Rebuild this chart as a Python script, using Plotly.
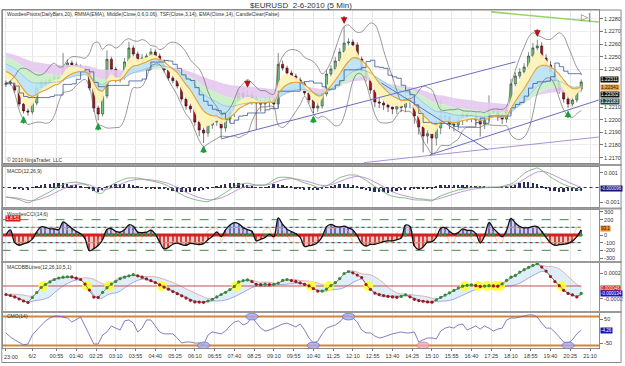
import numpy as np
import pandas as pd
import plotly.graph_objects as go
from plotly.subplots import make_subplots

# ---------------- data ----------------
title_text = "$EURUSD  2-6-2010 (5 Min)"
tick_vals = [0, 12, 23, 32, 41, 50, 59, 68, 77, 86, 95, 104, 113, 122, 131, 140, 149, 158,
             167, 176, 185, 194, 203, 212, 221, 230, 239, 248, 257, 266]
tick_text = ["23:00", "6/2", "00:55", "01:40", "02:25", "03:10", "03:55", "04:40", "05:25",
             "06:10", "06:55", "07:40", "08:25", "09:10", "09:55", "10:40", "11:25", "12:10",
             "12:55", "13:40", "14:25", "15:10", "15:55", "16:40", "17:25", "18:10", "18:55",
             "19:40", "20:25", "21:10"]

closes = [1.22292, 1.22300, 1.22236, 1.22125, 1.22070, 1.22062, 1.22133, 1.22252, 1.22300, 1.22285,
          1.22316, 1.22340, 1.22324, 1.22419, 1.22451, 1.22435, 1.22419, 1.22403, 1.22380, 1.22252,
          1.22093, 1.22046, 1.22189, 1.22480, 1.22400, 1.22316, 1.22340, 1.22459, 1.22570, 1.22522,
          1.22459, 1.22490, 1.22506, 1.22538, 1.22506, 1.22459, 1.22395, 1.22332, 1.22310, 1.22268,
          1.22165, 1.22109, 1.22085, 1.21982, 1.21919, 1.21895, 1.21958, 1.21982, 1.22022, 1.21935,
          1.22006, 1.22062, 1.22149, 1.22213, 1.22181, 1.22195, 1.22170, 1.22133, 1.22125, 1.22149,
          1.22160, 1.22125, 1.22440, 1.22410, 1.22371, 1.22347, 1.22316, 1.22284, 1.22213, 1.22157,
          1.22093, 1.22109, 1.22205, 1.22363, 1.22403, 1.22467, 1.22538, 1.22609, 1.22617, 1.22594,
          1.22482, 1.22395, 1.22332, 1.22236, 1.22141, 1.22133, 1.22117, 1.22101, 1.22085, 1.22110,
          1.22100, 1.22157, 1.22141, 1.22030, 1.21942, 1.21871, 1.21890, 1.21855, 1.21935, 1.22030,
          1.22022, 1.21966, 1.21958, 1.21998, 1.22038, 1.22022, 1.22030, 1.21998, 1.21966, 1.22014,
          1.22054, 1.22060, 1.22022, 1.22006, 1.22077, 1.22284, 1.22347, 1.22379, 1.22419, 1.22506,
          1.22570, 1.22586, 1.22490, 1.22435, 1.22379, 1.22316, 1.22236, 1.22165, 1.22125, 1.22157,
          1.22244, 1.22300]
opens = [1.22280, 1.22292, 1.22300, 1.22236, 1.22125, 1.22070, 1.22062, 1.22133, 1.22252, 1.22300,
         1.22285, 1.22316, 1.22340, 1.22324, 1.22419, 1.22451, 1.22435, 1.22419, 1.22403, 1.22380,
         1.22252, 1.22093, 1.22046, 1.22189, 1.22480, 1.22400, 1.22316, 1.22340, 1.22459, 1.22570,
         1.22522, 1.22459, 1.22490, 1.22506, 1.22538, 1.22506, 1.22459, 1.22395, 1.22332, 1.22310,
         1.22268, 1.22165, 1.22109, 1.22085, 1.21982, 1.21919, 1.21895, 1.21958, 1.21982, 1.22022,
         1.21935, 1.22006, 1.22062, 1.22149, 1.22213, 1.22181, 1.22195, 1.22170, 1.22133, 1.22125,
         1.22149, 1.22160, 1.22125, 1.22440, 1.22410, 1.22371, 1.22347, 1.22316, 1.22284, 1.22213,
         1.22157, 1.22093, 1.22109, 1.22205, 1.22363, 1.22403, 1.22467, 1.22538, 1.22609, 1.22617,
         1.22594, 1.22482, 1.22395, 1.22332, 1.22236, 1.22141, 1.22133, 1.22117, 1.22101, 1.22085,
         1.22110, 1.22100, 1.22157, 1.22141, 1.22030, 1.21942, 1.21871, 1.21890, 1.21855, 1.21935,
         1.22030, 1.22022, 1.21966, 1.21958, 1.21998, 1.22038, 1.22022, 1.22030, 1.21998, 1.21966,
         1.22014, 1.22054, 1.22060, 1.22022, 1.22006, 1.22077, 1.22284, 1.22347, 1.22379, 1.22419,
         1.22506, 1.22570, 1.22586, 1.22490, 1.22435, 1.22379, 1.22316, 1.22236, 1.22165, 1.22125,
         1.22157, 1.22244]
upper_wick_pips = [2, 2, 2, 1, 1, 2, 2, 3, 2, 2,  2, 2, 2, 11, 3, 2, 2, 2, 2, 2,
                   2, 2, 3, 7, 2, 2, 3, 3, 5, 2,  2, 3, 2, 3, 2, 2, 2, 2, 2, 2,
                   2, 2, 2, 2, 2, 2, 3, 2, 3, 2,  3, 3, 3, 3, 4, 4, 3, 2, 3, 3,
                   3, 2, 9, 3, 2, 2, 2, 2, 2, 2,  2, 3, 3, 3, 3, 3, 3, 13, 3, 2,
                   2, 2, 2, 2, 3, 3, 3, 3, 3, 3,  4, 6, 5, 3, 3, 4, 5, 4, 6, 13,
                   3, 3, 3, 3, 4, 3, 3, 3, 3, 4,  14, 3, 3, 3, 4, 4, 3, 3, 3, 3,
                   4, 5, 3, 3, 3, 2, 2, 2, 3, 3,  2, 2]
lower_wick_pips = [2, 2, 2, 2, 2, 3, 2, 2, 2, 2,  2, 2, 2, 2, 2, 2, 2, 2, 2, 2,
                   3, 5, 2, 2, 2, 2, 2, 2, 2, 2,  2, 2, 2, 2, 2, 2, 2, 2, 2, 2,
                   2, 3, 3, 3, 5, 8, 3, 3, 3, 8,  3, 3, 4, 5, 6, 6, 5, 21, 6, 5,
                   5, 4, 3, 2, 2, 2, 2, 2, 2, 3,  4, 3, 2, 2, 2, 2, 2, 2, 2, 2,
                   2, 2, 3, 3, 4, 4, 4, 4, 4, 4,  4, 4, 5, 6, 6, 13, 6, 13, 6, 5,
                   4, 4, 5, 4, 4, 4, 4, 4, 10, 4,  3, 3, 3, 4, 3, 3, 2, 2, 2, 2,
                   2, 2, 2, 3, 3, 3, 3, 3, 3, 2,  2, 2]

# MACD(12,26,9) line, in units of 0.0001
macd_e4 = [-6.6, -7.0, -7.6, -8.3, -9.6, -10.5, -9.3, -7.6, -6.1, -4.5,
           -3.0, -1.0, 0.6, 1.9, 3.1, 3.4, 3.7, 3.1, 2.2, 0.6,
           -2.1, -3.8, -3.7, 0.1, 1.7, 3.3, 4.6, 5.9, 6.6, 6.6,
           6.5, 5.9, 5.2, 4.6, 4.0, 3.2, 2.3, 1.0, -1.2, -3.2,
           -4.8, -6.3, -7.4, -8.3, -9.0, -9.6, -9.7, -8.4, -7.2, -5.3,
           -3.5, -1.5, 0.7, 2.0, 2.6, 3.0, 2.3, 1.7, 1.7, 1.7,
           3.2, 5.3, 6.8, 7.1, 7.0, 6.6, 5.5, 4.3, 3.2, 2.3,
           1.3, 0.0, 0.3, 1.2, 2.8, 4.9, 6.8, 7.7, 8.6, 8.6,
           8.4, 6.7, 5.0, 2.8, 0.7, -1.1, -3.0, -4.9, -6.0, -6.6,
           -7.0, -7.2, -7.9, -8.5, -8.6, -8.6, -8.9, -9.2, -7.2, -5.8,
           -4.6, -3.5, -2.6, -1.7, -1.1, -0.5, -0.1, 0.2, 0.3, 0.3,
           0.3, 0.3, 0.3, 0.7, 1.8, 2.4, 4.1, 7.0, 9.6, 11.4,
           12.5, 13.4, 11.9, 9.7, 7.2, 5.4, 3.6, 2.1, 1.0, -0.1,
           -1.2, -1.9]

# MACDBBLines dots, in units of 0.0001
macdbb_e4 = [-1.31, -1.46, -1.69, -2.0, -2.31, -2.54, -1.77, -1.0, -0.23, 0.23,
             0.62, 1.0, 1.23, 1.35, 1.42, 1.40, 1.20, 1.0, 0.29, -0.63,
             -1.71, -1.74, -0.98, -0.26, 0.29, 0.69, 1.12, 1.35, 1.57, 1.75,
             1.57, 1.35, 1.09, 0.82, 0.54, 0.17, -0.17, -0.49, -0.85, -1.18,
             -1.52, -1.86, -2.2, -2.45, -2.48, -2.51, -2.31, -2.06, -1.68, -1.31,
             -0.98, -0.55, -0.06, 0.62, 0.83, 0.94, 0.69, 0.25, 0.20, 0.28,
             0.22, 0.26, 0.45, 0.85, 1.0, 0.83, 0.71, 0.48, 0.26, 0.02,
             -0.4, -0.78, -0.78, -0.48, 0.06, 0.51, 1.14, 1.92, 2.23, 2.03,
             1.68, 1.31, 0.23, -0.52, -1.09, -1.31, -1.46, -1.6, -1.68, -1.74,
             -1.6, -1.35, -1.66, -2.05, -2.25, -2.35, -2.46, -2.49, -2.12, -1.75,
             -1.4, -1.05, -0.69, -0.31, -0.03, 0.11, 0.18, 0.05, -0.06, -0.02,
             0.05, 0.01, -0.03, 0.32, 0.88, 1.35, 1.63, 2.14, 2.51, 2.86,
             3.18, 3.45, 2.91, 2.29, 1.45, 0.68, 0.05, -0.66, -1.15, -1.38,
             -1.69, -1.15]

# CMO(14)
cmo_vals = [-8, -25, -37, -46, -58, -54, -17, 4, 21, 42,
            54, 62, 62, 58, 54, 37, 46, 58, 21, -17,
            -54, -54, -17, -4, 21, 12, 4, 42, 46, 33,
            -4, 12, 46, 46, 21, -4, -12, -12, -12, -29,
            -50, -46, -46, -50, -50, -58, -17, -4, -8, -12,
            0, 21, 37, 42, 25, 33, 58, 37, 12, 0,
            4, 12, 21, 29, 33, 25, 17, 29, 4, -29,
            -50, -42, -12, 12, 17, 25, 37, 58, 67, 54,
            37, 4, -8, -8, -21, -29, -25, -17, -12, -8,
            -4, -8, -8, -4, -46, -37, -29, -29, -33, 0,
            12, 17, 12, 25, 29, 4, 12, 21, 8, 21,
            12, 0, 8, 12, 46, 54, 54, 58, 62, 67,
            67, 58, 33, 12, 12, -4, -25, -46, -50, -37,
            -12, 4]
cmo_mark_bars = [45, 56, 70, 78, 95, 128]
cmo_mark_side = [-1, 1, -1, 1, -1, -1]
cmo_mark_kind = ["normal", "normal", "normal", "normal", "alert", "normal"]
cmo_levels = [60, -60]

up_pivots = [4, 21, 45, 70, 128]
down_pivots = [55, 77, 121]

# trend lines drawn on the chart: (bar, price) -> (bar, price)
trend_starts = [(98, 1.21848), (163, 1.21660), (171, 1.22292), (193, 1.21721), (221, 1.22856)]
trend_ends = [(232, 1.22459), (270, 1.21863), (219.5, 1.21760), (270, 1.22157), (270, 1.22776)]

# ribbon moving averages (periods) and their levels at the left edge of the chart
ribbon_periods = [3, 8, 18, 30, 60]
ribbon_start_levels = [1.2236, 1.2241, 1.2246, 1.2251, 1.2254]

price_tag_text = ["1.22311", "1.22341", "1.22302", "1.22183"]
price_ticks = [1.2170, 1.2180, 1.2190, 1.2200, 1.2210, 1.2240, 1.2250, 1.2260, 1.2270, 1.2280]
macd_ticks = [-0.001, 0.001]
cci_ticks = [-300, -200, -100, 0, 200, 300]
bb_ticks = [-0.0002, 0.0002]
cmo_ticks = [-50, 50]

# ---------------- derived series ----------------
s = pd.Series(closes)
o = pd.Series(opens)
highs = np.maximum(o, s) + np.array(upper_wick_pips) * 0.0001
lows = np.minimum(o, s) - np.array(lower_wick_pips) * 0.0001
xb = [2 * i for i in range(len(closes))]
N = len(closes)


def ema_seeded(vals, n, seed):
    a = 2.0 / (n + 1)
    out, e = [], seed
    for v in vals:
        e = e + a * (v - e)
        out.append(e)
    return pd.Series(out)


rib = [ema_seeded(closes, n, sd) for n, sd in zip(ribbon_periods, ribbon_start_levels)]
bb_mid = s.rolling(7, min_periods=1).mean()
bb_sd = s.rolling(7, min_periods=2).std().fillna(0)
bb_up, bb_lo = bb_mid + 2 * bb_sd, bb_mid - 2 * bb_sd
don = (pd.Series(highs).rolling(10, min_periods=1).max() + pd.Series(lows).rolling(10, min_periods=1).min()) / 2

macd = pd.Series(macd_e4) * 1e-4
sig = ema_seeded(macd, 5, macd[0])
hist = macd - sig

tp = (pd.Series(highs) + pd.Series(lows) + s) / 3


def cci_f(n):
    sma = tp.rolling(n, min_periods=2).mean()
    md = tp.rolling(n, min_periods=2).apply(lambda a: np.mean(np.abs(a - a.mean())), raw=True)
    return ((tp - sma) / (0.015 * md)).fillna(0)


cci = cci_f(7)
turbo = cci_f(3)

mbb = pd.Series(macdbb_e4) * 1e-4
mbb_mid = ema_seeded(mbb, 6, mbb[0])
mbb_sd = mbb.rolling(6, min_periods=2).std().fillna(0)
mbb_up, mbb_lo = mbb_mid + mbb_sd, mbb_mid - mbb_sd

# ---------------- figure ----------------
fig = make_subplots(rows=5, cols=1, shared_xaxes=False, vertical_spacing=0.01)
NONE = dict(width=0)

band_cols = ["rgba(252,242,185,0.95)", "rgba(184,226,246,0.9)", "rgba(198,238,198,0.9)", "rgba(228,200,238,0.9)"]
for k in (3, 2, 1, 0):
    fig.add_trace(go.Scatter(x=xb, y=rib[k], mode="lines", line=dict(width=0, shape="spline")), 1, 1)
    fig.add_trace(go.Scatter(x=xb, y=rib[k + 1], mode="lines", line=dict(width=0, shape="spline"),
                             fill="tonexty", fillcolor=band_cols[k]), 1, 1)
fig.add_trace(go.Scatter(x=xb, y=rib[2], mode="lines", line=dict(color="#86b8de", width=0.7, shape="spline")), 1, 1)
fig.add_trace(go.Scatter(x=xb, y=don, mode="lines", line=dict(color="#3a5896", width=0.8, shape="hv")), 1, 1)
fig.add_trace(go.Scatter(x=xb, y=bb_up, mode="lines", line=dict(color="#555", width=0.6, shape="spline")), 1, 1)
fig.add_trace(go.Scatter(x=xb, y=bb_lo, mode="lines", line=dict(color="#555", width=0.6, shape="spline")), 1, 1)
fig.add_trace(go.Scatter(x=xb, y=rib[1], mode="lines", line=dict(color="#e5a030", width=1.1, shape="spline")), 1, 1)

fig.add_trace(go.Candlestick(x=xb, open=opens, high=highs, low=lows, close=closes, whiskerwidth=0,
                             increasing=dict(line=dict(color="#2f3f2f", width=0.6), fillcolor="#7cc47c"),
                             decreasing=dict(line=dict(color="#3a1010", width=0.6), fillcolor="#a8141a")), 1, 1)

tl_colors = ["#6b6bc2", "#a892d4", "#6b6bc2", "#6b6bc2", "#97d46b"]
tl_widths = [1, 1, 1, 1, 1.6]
for (x0, y0), (x1, y1), c, w in zip(trend_starts, trend_ends, tl_colors, tl_widths):
    fig.add_trace(go.Scatter(x=[x0, x1], y=[y0, y1], mode="lines", line=dict(color=c, width=w)), 1, 1)

for i in up_pivots:
    fig.add_annotation(x=xb[i], y=lows[i] - 0.0002, xref="x", yref="y", text="", showarrow=True,
                       ax=0, ay=9, arrowhead=2, arrowsize=0.75, arrowwidth=1.8, arrowcolor="#1e9e3a")
for i in down_pivots:
    fig.add_annotation(x=xb[i], y=highs[i] + 0.0002, xref="x", yref="y", text="", showarrow=True,
                       ax=0, ay=-9, arrowhead=2, arrowsize=0.75, arrowwidth=1.8, arrowcolor="#b8141c")

# MACD panel
fig.add_trace(go.Scatter(x=[-2, 272], y=[0, 0], mode="lines", line=dict(color="#333", width=1, dash="dot")), 2, 1)
fig.add_trace(go.Bar(x=xb, y=hist, marker=dict(color="#2d2d5a", line=dict(width=0)), width=0.8), 2, 1)
fig.add_trace(go.Scatter(x=xb, y=sig, mode="lines", line=dict(color="#b07cc8", width=0.8, shape="spline")), 2, 1)
fig.add_trace(go.Scatter(x=xb, y=macd, mode="lines", line=dict(color="#6aaa6a", width=0.8, shape="spline")), 2, 1)

# CCI panel
for lvl, col, dash in [(200, "#2e7d32", "dash"), (-200, "#2e7d32", "dash"),
                       (100, "#5fe0ea", "solid"), (-100, "#5fe0ea", "solid"),
                       (100, "#8b1a1a", "dot"), (-100, "#8b1a1a", "dot")]:
    fig.add_trace(go.Scatter(x=[-2, 262], y=[lvl, lvl], mode="lines", line=dict(color=col, width=0.9, dash=dash)), 3, 1)
fig.add_trace(go.Scatter(x=xb, y=cci.clip(lower=0), mode="lines", line=NONE, fill="tozeroy",
                         fillcolor="rgba(150,150,225,0.45)"), 3, 1)
fig.add_trace(go.Scatter(x=xb, y=cci.clip(upper=0), mode="lines", line=NONE, fill="tozeroy",
                         fillcolor="rgba(232,110,110,0.35)"), 3, 1)
fig.add_trace(go.Bar(x=xb, y=cci, marker=dict(color=["#4a4aa0" if v > 0 else "#c83030" for v in cci],
                                              line=dict(width=0)), width=0.6), 3, 1)
fig.add_trace(go.Scatter(x=xb, y=turbo, mode="lines", line=dict(color="#f2b060", width=0.6)), 3, 1)
fig.add_trace(go.Scatter(x=[-2, 262], y=[0, 0], mode="lines", line=dict(color="#d42020", width=3)), 3, 1)
trend_up = (rib[1].diff().fillna(0) > 0)
fig.add_trace(go.Scatter(x=[xb[i] for i in range(N) if trend_up[i]], y=[0] * int(trend_up.sum()),
                         mode="markers", marker=dict(color="#1e9e3a", size=3)), 3, 1)
fig.add_trace(go.Scatter(x=xb, y=cci, mode="lines", line=dict(color="#111", width=1.3, shape="spline")), 3, 1)

# MACD BB panel
fig.add_trace(go.Scatter(x=xb, y=mbb_lo, mode="lines", line=dict(color="#7c88d8", width=0.7, shape="spline")), 4, 1)
fig.add_trace(go.Scatter(x=xb, y=mbb_up, mode="lines", line=dict(color="#e09090", width=0.7, shape="spline"),
                         fill="tonexty", fillcolor="rgba(200,228,246,0.6)"), 4, 1)
fig.add_trace(go.Scatter(x=[-2, 262], y=[0, 0], mode="lines", line=dict(color="#c05050", width=1)), 4, 1)
cross = [i for i in range(1, N) if (mbb[i] > 0) != (mbb[i - 1] > 0)]
fig.add_trace(go.Scatter(x=[xb[i] - 1 for i in cross], y=[0] * len(cross), mode="markers",
                         marker=dict(color="#ffff30", size=10, opacity=0.9)), 4, 1)
fig.add_trace(go.Scatter(x=xb, y=mbb, mode="lines+markers", line=dict(color="#222", width=0.5),
                         marker=dict(size=3.2, color=["#2e8b3a" if (i > 0 and mbb[i] >= mbb[i - 1]) else "#a01818"
                                                      for i in range(N)])), 4, 1)

# CMO panel
for lvl in cmo_levels:
    fig.add_trace(go.Scatter(x=[-2, 272], y=[lvl, lvl], mode="lines", line=dict(color="#d2843c", width=2)), 5, 1)
fig.add_trace(go.Scatter(x=xb, y=cmo_vals, mode="lines", line=dict(color="#6060ad", width=0.8)), 5, 1)
for k, side, kind in zip(cmo_mark_bars, cmo_mark_side, cmo_mark_kind):
    lvl = cmo_levels[0] if side > 0 else cmo_levels[1]
    fc = "rgba(240,170,185,0.8)" if kind == "alert" else "rgba(170,170,235,0.8)"
    lc = "#d08090" if kind == "alert" else "#7070c8"
    fig.add_shape(type="circle", xref="x5", yref="y5", x0=xb[k] - 2.8, x1=xb[k] + 2.8,
                  y0=lvl - 14, y1=lvl + 14, fillcolor=fc, line=dict(color=lc, width=0.8))

# ---------------- layout ----------------
H = 338.0


def py(ypx):
    return (348 - ypx) / H


domains = [[py(163), 1.0], [py(207), py(167)], [py(261), py(210)], [py(311), py(263)], [0.0, py(313)]]
yranges = [[1.21657, 1.22871], [-0.00134, 0.00141], [-339, 326], [-0.000385, 0.000354], [-70.8, 75]]
yticks = [price_ticks, macd_ticks, cci_ticks, bb_ticks, cmo_ticks]
ytext = [[f"{v:.4f}" for v in price_ticks], ["-0.001", "0.001"], [str(v) for v in cci_ticks],
         ["-0.0002", "0.0002"], ["-50", "50"]]

font_family = "Liberation Sans, Arial, sans-serif"
for r in range(1, 6):
    sfx = "" if r == 1 else str(r)
    fig.layout["xaxis" + sfx].update(range=[-1.36, 270.1], showgrid=True, gridcolor="#e6e6e6", gridwidth=1,
                                     tickvals=tick_vals, ticktext=[""] + tick_text[1:], showticklabels=(r == 5),
                                     ticks="outside" if r == 5 else "", ticklen=2, tickcolor="#777",
                                     tickfont=dict(size=5.5, color="#333", family=font_family),
                                     showline=True, mirror=True, linecolor="#8a8a8a", linewidth=1,
                                     zeroline=False, rangeslider=dict(visible=False), fixedrange=True)
    fig.layout["yaxis" + sfx].update(domain=domains[r - 1], range=yranges[r - 1], side="right",
                                     tickvals=yticks[r - 1], ticktext=ytext[r - 1], ticks="outside",
                                     ticklen=3, tickcolor="#777", showgrid=(r == 1), gridcolor="#ececec",
                                     tickfont=dict(size=5.5, color="#333", family=font_family),
                                     showline=True, mirror=True, linecolor="#8a8a8a", linewidth=1,
                                     zeroline=False)

fig.update_traces(showlegend=False, hoverinfo="skip")

for ypx in (165, 208.5, 262, 312):
    fig.add_shape(type="line", xref="paper", yref="paper", x0=-0.003, x1=1.038, y0=py(ypx), y1=py(ypx),
                  line=dict(color="#9a9a9a", width=2.2))
fig.add_shape(type="rect", xref="paper", yref="paper", x0=-0.002, x1=1.037, y0=py(362.5), y1=py(10),
              line=dict(color="#8a8a8a", width=1))

ann_font = dict(size=5, color="#333", family=font_family)
fig.add_annotation(xref="paper", yref="paper", x=0.5, y=py(5), yanchor="middle", text=title_text, showarrow=False,
                   font=dict(size=8, color="#333", family=font_family))
fig.add_annotation(xref="paper", yref="paper", x=-0.002, y=py(356.5), yanchor="middle", xanchor="left",
                   text=tick_text[0], showarrow=False, font=dict(size=5.5, color="#333", family=font_family))
fig.add_annotation(xref="paper", yref="paper", x=0.978, y=py(17), yanchor="middle", xanchor="center",
                   text="▷|", showarrow=False, font=dict(size=9, color="#666", family="DejaVu Sans"))
labels = [("WoodiesPivots(DailyBars,20), RMMA(EMA), Middle(Close,0,6,0.06), TSF(Close,3,14), EMA(Close,14), CandleClear(False)", 14),
          ("© 2010 NinjaTrader, LLC", 160), ("MACD(12,26,9)", 171), ("WoodiesCCI(14,6)", 214),
          ("MACDBBLines(12,26,10,5,1)", 267), ("CMO(14)", 316)]
for txt, ypx in labels:
    fig.add_annotation(xref="paper", yref="paper", x=0.004, y=py(ypx), text=txt, showarrow=False,
                       xanchor="left", yanchor="middle", font=ann_font)

tag_bg = ["#111111", "#e8a030", "#111111", "#1d4848"]
tag_fc = ["white", "#222", "white", "white"]
tag_y = [79, 87, 94.5, 102]
for t, ypx, bg, fc in zip(price_tag_text, tag_y, tag_bg, tag_fc):
    fig.add_annotation(xref="paper", yref="paper", x=1.0, y=py(ypx), text=t, showarrow=False, xanchor="left",
                       yanchor="middle", xshift=1, bgcolor=bg, borderpad=0,
                       font=dict(size=4.8, color=fc, family=font_family))
other_tags = [("-0.000096", 189, "#141470", "white"), ("93.1", 228, "#e88a20", "#222"),
              ("0.000046", 288, "#d01818", "white"), ("-0.000134", 293.5, "#1818c8", "white"),
              ("-4.26", 330, "#1818a8", "white")]
for t, ypx, bg, fc in other_tags:
    fig.add_annotation(xref="paper", yref="paper", x=1.0, y=py(ypx), text=t, showarrow=False, xanchor="left",
                       yanchor="middle", xshift=1, bgcolor=bg, borderpad=0,
                       font=dict(size=4.5, color=fc, family=font_family))
fig.add_annotation(xref="paper", yref="paper", x=0.004, y=py(219), text="1.8.51", showarrow=False,
                   xanchor="left", yanchor="middle", bgcolor="#d01818", borderpad=0,
                   font=dict(size=4.8, color="white", family=font_family))

fig.update_layout(width=625, height=366, margin=dict(l=2, r=23, t=10, b=18), paper_bgcolor="white",
                  plot_bgcolor="white", showlegend=False, bargap=0)
fig.write_html("out.html")
